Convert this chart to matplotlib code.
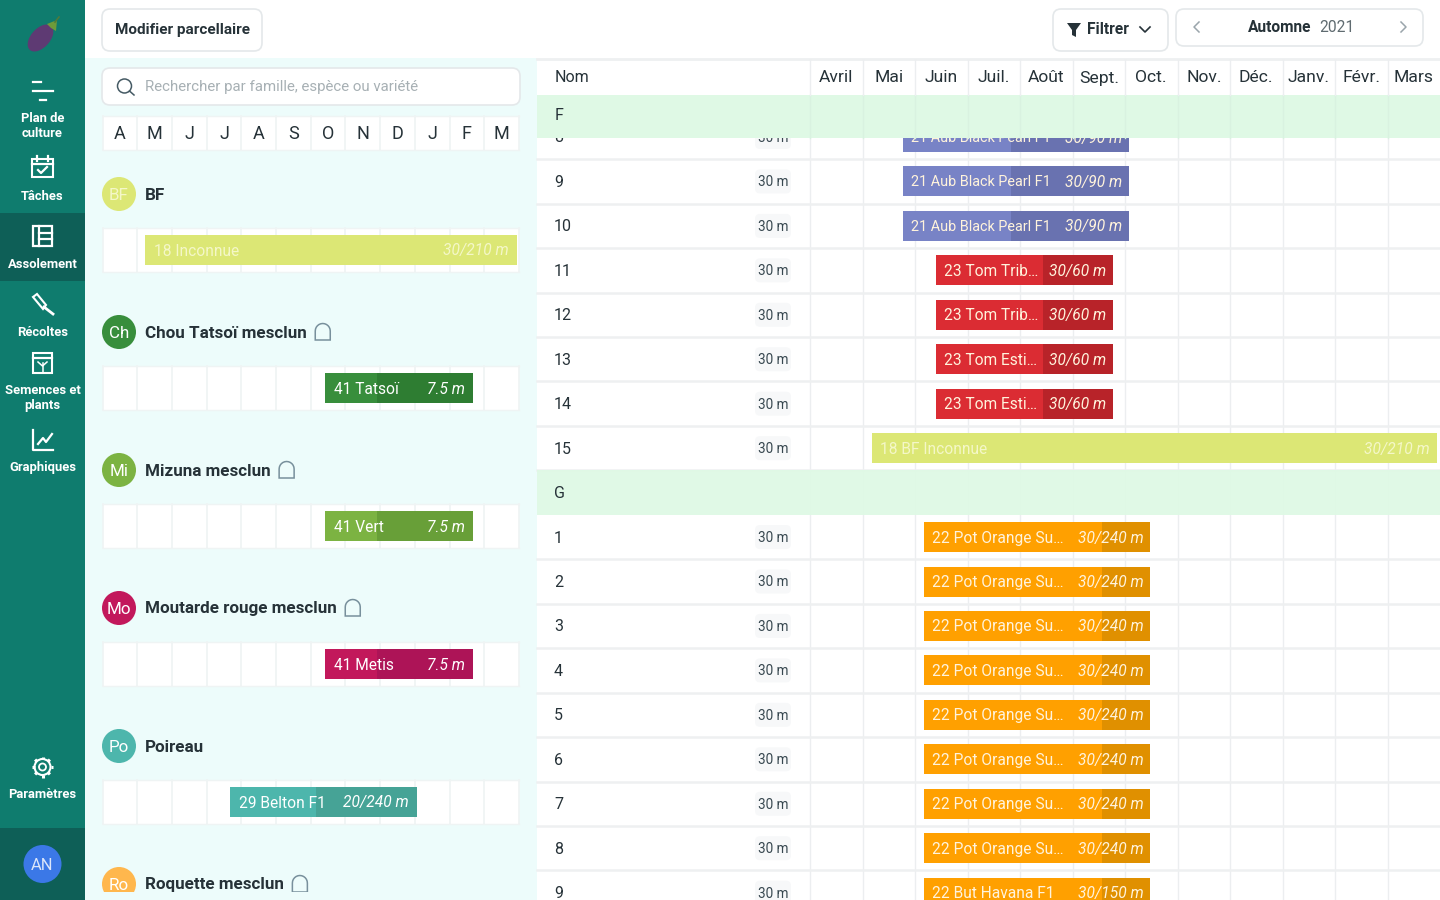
import math
import matplotlib
matplotlib.use("Agg")
import matplotlib.pyplot as plt
from matplotlib.patches import Rectangle, FancyBboxPatch, Circle, Ellipse, Polygon

plt.rcParams['font.family'] = ['Roboto', 'DejaVu Sans']

# --- donnees ---
months = ["Avril", "Mai", "Juin", "Juil.", "Août", "Sept.", "Oct.", "Nov.", "Déc.", "Janv.", "Févr.", "Mars"]
month_letters = ["A", "M", "J", "J", "A", "S", "O", "N", "D", "J", "F", "M"]

row_names = ["8", "9", "10", "11", "12", "13", "14", "15", "G", "1", "2", "3", "4", "5", "6", "7", "8", "9"]
row_lengths = ["30 m"] * 8 + [""] + ["30 m"] * 9
row_labels = ["21 Aub Black Pearl F1"] * 3 + ["23 Tom Trib…"] * 2 + ["23 Tom Esti…"] * 2 + ["18 BF Inconnue", ""] \
    + ["22 Pot Orange Su…"] * 8 + ["22 But Havana F1"]
row_amounts = ["30/90 m"] * 3 + ["30/60 m"] * 4 + ["30/210 m", ""] + ["30/240 m"] * 8 + ["30/150 m"]
row_start = [1.77] * 3 + [2.40] * 4 + [1.18, None] + [2.17] * 9
row_split = [3.83] * 3 + [4.44] * 4 + [None, None] + [5.56] * 9
row_end = [6.08] * 3 + [5.77] * 4 + [11.94, None] + [6.48] * 9
row_colors = ["#7883C6"] * 3 + ["#DB2C33"] * 4 + ["#DCE775", None] + ["#FFA000"] * 9
row_dark = ["#6972B0"] * 3 + ["#B82329"] * 4 + ["#DCE775", None] + ["#E09000"] * 9

species = ["BF", "Chou Tatsoï mesclun", "Mizuna mesclun", "Moutarde rouge mesclun", "Poireau", "Roquette mesclun"]
species_short = ["BF", "Ch", "Mi", "Mo", "Po", "Ro"]
species_colors = ["#DCE775", "#388E3C", "#7CB342", "#C2185B", "#4DB6AC", "#FFB74D"]
species_bell = [False, True, True, True, False, True]
crop_labels = ["18 Inconnue", "41 Tatsoï", "41 Vert", "41 Metis", "29 Belton F1"]
crop_amounts = ["30/210 m", "7.5 m", "7.5 m", "7.5 m", "20/240 m"]
crop_start = [1.22, 6.41, 6.41, 6.41, 3.66]
crop_split = [None, 7.9, 7.9, 7.9, 6.14]
crop_end = [11.94, 10.67, 10.67, 10.67, 9.05]
crop_dark = ["#DCE775", "#2E7D32", "#689F38", "#AD1457", "#46A396"]

nav_labels = ["Plan de\nculture", "Tâches", "Assolement", "Récoltes", "Semences et\nplants", "Graphiques", "Paramètres"]
nav_y = [126, 196, 264, 332, 398, 468, 794]

DPI = 100
TEAL = "#0F7C6E"
TEAL_DARK = "#0E5F57"
MINT = "#EDFCFB"
HEAD = "#DFF9E5"
GRID = "#ECEEF0"
INK = "#263238"


def fs(px):
    return px * 72 / DPI


fig = plt.figure(figsize=(14.4, 9), dpi=DPI)
ax = fig.add_axes([0, 0, 1, 1])
ax.set_xlim(0, 1440)
ax.set_ylim(900, 0)
ax.axis("off")


def rect(x, y, w, h, color, z=1, **kw):
    ax.add_patch(Rectangle((x, y), w, h, facecolor=color, edgecolor="none", zorder=z, **kw))


def rbox(x, y, w, h, z=3, r=8, fc="white", ec="#E4E8EA"):
    ax.add_patch(FancyBboxPatch((x + r, y + r), w - 2 * r, h - 2 * r, boxstyle=f"round,pad={r},rounding_size={r}",
                                facecolor=fc, edgecolor=ec, linewidth=1.2, zorder=z))


def txt(x, y, s, px=15, color=INK, ha="left", z=6, **kw):
    return ax.text(x, y + 1, s, fontsize=fs(px), color=color, ha=ha, va="center", zorder=z, **kw)


def arch(x, y):
    # petit tunnel a cote du nom d'espece
    pts = [(x - 7.5, y + 8), (x + 7.5, y + 8)]
    for k in range(0, 13):
        a = math.pi * k / 12
        pts.append((x + 7.5 * math.cos(a), y - 1 - 7.5 * math.sin(a)))
    ax.add_patch(Polygon(pts, closed=True, facecolor="none", edgecolor="#78909C", lw=1.1, zorder=6))


# fond
rect(85, 58, 452, 842, MINT, 0)
rect(537, 58, 903, 842, "white", 0)

# --- grille de droite ---
M_X0, M_W = 810, 52.5
ROW_Y0, ROW_H = 137, 44.45


def mx(m):
    return M_X0 + m * M_W


for i in range(12):
    ax.plot([mx(i)] * 2, [60, 900], color=GRID, lw=1, zorder=1)
for i, name in enumerate(row_names):
    y = ROW_Y0 + i * ROW_H
    if name == "G":
        rect(537, y - ROW_H / 2, 903, ROW_H, HEAD, 2, alpha=0.95)
        txt(554, y, name, 16, z=3.5)
        continue
    ax.plot([537, 1440], [y + ROW_H / 2] * 2, color="#EEF0F1", lw=1.8, zorder=1)
    txt(554, y, name, 16, z=3.5)
    rbox(755, y - 12, 36, 24, z=2, r=5, fc="#F7F8F9", ec="none")
    txt(773, y, row_lengths[i], 13.5, ha="center", color="#37474F", z=3.5)
    x0, x1 = mx(row_start[i]), mx(row_end[i])
    rect(x0, y - 15, x1 - x0, 30, row_colors[i], 3)
    if row_split[i] is not None:
        xs = mx(row_split[i])
        rect(xs, y - 15, x1 - xs, 30, row_dark[i], 3)
    tc = "#F4F7C8" if row_colors[i] == "#DCE775" else "#FFF3DC"
    # le libelle Aub est plus serre dans l'original
    label_px = 14.4 if len(row_labels[i]) > 18 else 15.5
    txt(x0 + 8, y, row_labels[i], label_px, color=tc, z=3.5)
    txt(x1 - 7, y, row_amounts[i], 15.5, color=tc, ha="right", style="italic", z=3.5)

# entete tableau
rect(537, 58, 903, 37, "white", 4)
ax.plot([537, 1440], [59, 59], color="#EEF0F1", lw=2, zorder=5)
ax.text(555, 82, "Nom", fontsize=fs(16), color=INK, va="baseline", zorder=6)
for i, m in enumerate(months):
    ax.plot([mx(i)] * 2, [60, 95], color=GRID, lw=1, zorder=5)
    ax.text(mx(i) + M_W / 2, 82.5, m, fontsize=fs(17.5), color=INK, ha="center", va="baseline", zorder=6)
rect(537, 95, 903, 43, HEAD, 4)
for i in range(12):
    ax.plot([mx(i)] * 2, [95, 138], color="#D9F2E0", lw=1, zorder=4)
txt(555, 115, "F", 16)

# --- barre du haut ---
rect(85, 0, 1355, 58, "white", 4)
rbox(102, 9, 160, 42, z=5)
txt(115, 29, "Modifier parcellaire", 15.2, weight="bold")
rbox(1053, 9, 115, 42, z=5)
ax.add_patch(Polygon([(1067, 23), (1081, 23), (1076, 30), (1076, 37), (1072, 35), (1072, 30)], facecolor=INK, zorder=6))
txt(1087, 29, "Filtrer", 15.5, weight="bold")
ax.plot([1140, 1145, 1150], [27, 32, 27], color=INK, lw=1.2, zorder=6)
rbox(1176, 9, 247, 37, z=5)
ax.plot([1199, 1194, 1199], [22, 27, 32], color="#9AA5AB", lw=1.1, zorder=6)
ax.plot([1401, 1406, 1401], [22, 27, 32], color="#9AA5AB", lw=1.1, zorder=6)
txt(1248, 26.5, "Automne", 15.5, weight="bold")
txt(1319, 26.5, "2021", 15.5, color="#5F6B70")

# --- panneau gauche ---
rbox(102, 68, 418, 37, z=3)
ax.add_patch(Circle((124.5, 86), 7, facecolor="none", edgecolor="#455A64", lw=1.1, zorder=6))
ax.plot([129.5, 134], [91, 95], color="#455A64", lw=1.1, zorder=6)
txt(145, 86, "Rechercher par famille, espèce ou variété", 15, color="#A7B0B4")

L_X0, L_W = 102.5, 34.7


def lx(m):
    return L_X0 + m * L_W


def month_cells(y, h):
    rect(lx(0), y, 12 * L_W, h, "white", 2)
    for i in range(13):
        ax.plot([lx(i)] * 2, [y, y + h], color="#EFF4F4", lw=1.2, zorder=2)
    ax.plot([lx(0), lx(12)], [y, y], color="#EFF4F4", lw=1, zorder=2)
    ax.plot([lx(0), lx(12)], [y + h, y + h], color="#EFF4F4", lw=1, zorder=2)


month_cells(116, 34)
for i, letter in enumerate(month_letters):
    txt(lx(i) + L_W / 2, 133, letter, 18, ha="center")

SP_Y0, SP_H = 194, 138
renderer = fig.canvas.get_renderer()
for i, name in enumerate(species):
    y = SP_Y0 + i * SP_H
    ax.add_patch(Circle((119, y), 17, facecolor=species_colors[i], edgecolor="none", zorder=3))
    tc = "#F4F7C8" if i == 0 else "white"
    txt(119, y, species_short[i], 17, color=tc, ha="center")
    t = txt(145, y, name, 17, weight="bold")
    if species_bell[i]:
        bb = t.get_window_extent(renderer)
        arch(bb.x1 + 16, y)
    if i < len(crop_labels):
        yb = y + 56
        month_cells(yb - 22, 44)
        x0, x1 = lx(crop_start[i]), lx(crop_end[i])
        rect(x0, yb - 15, x1 - x0, 30, species_colors[i], 3)
        xs = lx(crop_split[i]) if crop_split[i] is not None else None
        if xs is not None:
            rect(xs, yb - 15, x1 - xs, 30, crop_dark[i], 3)
        txt(x0 + 9, yb, crop_labels[i], 15.5, color=tc)
        txt(x1 - 8, yb, crop_amounts[i], 15.5, color=tc, ha="right", style="italic")

# la liste est coupee en bas (Roquette)
rect(85, 892, 452, 8, MINT, 6.5)

# --- barre laterale ---
rect(0, 0, 85, 900, TEAL, 7)
rect(0, 213, 85, 68, TEAL_DARK, 7)
rect(0, 828, 85, 72, TEAL_DARK, 7)
for label, y in zip(nav_labels, nav_y):
    ax.text(42.5, y, label, fontsize=fs(13), color="white", ha="center", va="center", weight="bold",
            zorder=9, linespacing=1.25)

# aubergine
ax.add_patch(Ellipse((40.5, 38), 32, 19, angle=-48, facecolor="#5E3A73", edgecolor="none", zorder=8))
ax.add_patch(Polygon([(47, 24), (57, 20), (56, 31), (51, 28)], facecolor="#6E9B3A", zorder=8))
ax.plot([55, 59], [22, 17], color="#4F7A3A", lw=1.2, zorder=8)

# icones
icon = dict(color="white", lw=1.6, zorder=9)
ax.plot([33, 41], [82, 82], **icon)
ax.plot([33, 53], [91, 91], **icon)
ax.plot([40, 46], [100, 100], **icon)
ax.add_patch(Rectangle((32, 159), 21, 18, facecolor="none", edgecolor="white", lw=1.5, zorder=9))
ax.plot([32, 53], [164, 164], **icon)
ax.plot([37, 37], [156, 161], **icon)
ax.plot([48, 48], [156, 161], **icon)
ax.plot([38, 41, 47], [170, 173, 167], **icon)
ax.add_patch(Rectangle((33, 226), 19, 20, facecolor="none", edgecolor="white", lw=1.6, zorder=9))
ax.plot([39, 39], [226, 246], **icon)
ax.plot([39, 52], [233, 233], **icon)
ax.plot([39, 52], [239, 239], **icon)
# couteau
ax.add_patch(Polygon([(33, 297), (37, 294), (46, 305), (43, 309)], facecolor="none", edgecolor="white", lw=1.5, zorder=9))
ax.plot([44, 53], [307, 314], color="white", lw=2.0, zorder=9)
# sachet
ax.add_patch(Rectangle((33, 353), 19, 20, facecolor="none", edgecolor="white", lw=1.5, zorder=9))
ax.plot([33, 52], [358, 358], **icon)
ax.plot([42.5, 42.5], [363, 372], color="white", lw=1.1, zorder=9)
ax.plot([38, 42.5, 47], [362, 366, 362], color="white", lw=1.1, zorder=9)
# courbe
ax.plot([33, 33, 53], [430, 450, 450], **icon)
ax.plot([38, 43, 46, 52], [444, 438, 442, 434], **icon)
# roue dentee
ax.add_patch(Circle((42.5, 767), 8, facecolor="none", edgecolor="white", lw=1.5, zorder=9))
ax.add_patch(Circle((42.5, 767), 3.5, facecolor="none", edgecolor="white", lw=1.3, zorder=9))
for k in range(8):
    a = math.pi * k / 4
    ax.plot([42.5 + 8 * math.cos(a), 42.5 + 10.5 * math.cos(a)], [767 + 8 * math.sin(a), 767 + 10.5 * math.sin(a)],
            color="white", lw=2.2, zorder=9, solid_capstyle="butt")
ax.add_patch(Circle((42.5, 864), 19, facecolor="#3B78E7", edgecolor="none", zorder=9))
ax.text(42.5, 865, "AN", fontsize=fs(16.5), color="#DCE6FA", ha="center", va="center", zorder=10)

fig.savefig("out.png", dpi=DPI)
